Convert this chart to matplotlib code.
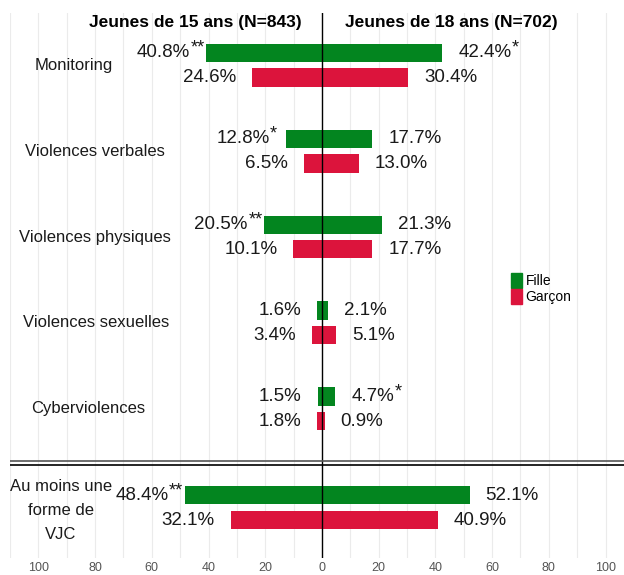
import numpy as np
import matplotlib.pyplot as plt
import matplotlib.transforms as mtransforms
from matplotlib.patches import Patch

plt.rcParams['font.family'] = ['Liberation Sans', 'DejaVu Sans']

categories = ["Monitoring", "Violences verbales", "Violences physiques",
              "Violences sexuelles", "Cyberviolences", "Au moins une\nforme de\nVJC"]
fille_15 = [40.8, 12.8, 20.5, 1.6, 1.5, 48.4]
garcon_15 = [24.6, 6.5, 10.1, 3.4, 1.8, 32.1]
fille_18 = [42.4, 17.7, 21.3, 2.1, 4.7, 52.1]
garcon_18 = [30.4, 13.0, 17.7, 5.1, 0.9, 40.9]
stars_fille_15 = ["**", "*", "**", "", "", "**"]
stars_fille_18 = ["*", "", "", "", "*", ""]
stars_garcon_15 = ["", "", "", "", "", ""]
stars_garcon_18 = ["", "", "", "", "", ""]
header_15 = "Jeunes de 15 ans (N=843)"
header_18 = "Jeunes de 18 ans (N=702)"
legend_labels = ["Fille", "Garçon"]

GREEN = "#03851f"
RED = "#dc143c"

fig = plt.figure(figsize=(6.24, 5.75), dpi=100)
W, H = 624, 575
ax = fig.add_axes([10 / W, 1 - 558 / H, 1 - 10 / W, (558 - 13) / H])

# group positions (last group a bit further down, after the separator)
ypos = np.array([0, 1, 2, 3, 4, 5.15])
off = 0.145
bh = 0.21

for g in np.arange(-110, 101, 10):
    ax.axvline(g, color="#ebebeb", lw=0.8, zorder=0)

ax.barh(ypos - off, [-v for v in fille_15], height=bh, color=GREEN, zorder=2)
ax.barh(ypos - off, fille_18, height=bh, color=GREEN, zorder=2)
ax.barh(ypos + off, [-v for v in garcon_15], height=bh, color=RED, zorder=2)
ax.barh(ypos + off, garcon_18, height=bh, color=RED, zorder=2)
ax.axvline(0, color="black", lw=1.0, zorder=3)

# separator double line
ax.axhline(4.605, color="#555555", lw=1.2, zorder=3)
ax.axhline(4.655, color="black", lw=1.2, zorder=3)


def value_label(x, y, side, star):
    t = ax.annotate(f"{x:.1f}%", xy=(side * x, y), xytext=(side * 11.5, 0),
                    textcoords="offset points", ha="right" if side < 0 else "left",
                    va="center", fontsize=13.5, color="#1a1a1a")
    if star:
        ax.annotate(star, xy=(1, 1), xycoords=t, xytext=(0.3, 3.5),
                    textcoords="offset points", ha="left", va="top",
                    fontsize=13, color="#1a1a1a")


for i in range(len(categories)):
    value_label(fille_15[i], ypos[i] - off, -1, stars_fille_15[i])
    value_label(fille_18[i], ypos[i] - off, 1, stars_fille_18[i])
    value_label(garcon_15[i], ypos[i] + off, -1, stars_garcon_15[i])
    value_label(garcon_18[i], ypos[i] + off, 1, stars_garcon_18[i])

# category labels
label_x_px = [74, 95, 95, 96, 88, 61]
label_dy = [0, 0, 0, 0, 0, 0.035]
trans = mtransforms.blended_transform_factory(fig.transFigure, ax.transData)
for i, name in enumerate(categories):
    ax.text(label_x_px[i] / W, ypos[i] + label_dy[i], name, transform=trans,
            ha="center", va="center", fontsize=12, color="#1a1a1a", linespacing=1.75)

ax.text(-7, -0.5, header_15, ha="right", va="center", fontsize=12.5, fontweight="bold")
ax.text(8, -0.5, header_18, ha="left", va="center", fontsize=12.5, fontweight="bold")

ax.set_xlim(-110, 106.5)
ax.set_ylim(5.733, -0.605)
ticks = np.arange(-100, 101, 20)
ax.set_xticks(ticks)
ax.set_xticklabels([str(abs(t)) for t in ticks], fontsize=9, color="#555555")
ax.tick_params(axis="x", length=0, pad=3)
ax.set_yticks([])
for s in ax.spines.values():
    s.set_visible(False)

handles = [Patch(color=GREEN), Patch(color=RED)]
fig.legend(handles, legend_labels, loc="upper left",
           bbox_to_anchor=(511 / W, 1 - 273 / H), frameon=False,
           fontsize=10, handlelength=0.8, handleheight=1.3,
           handletextpad=0.25, labelspacing=0.05, borderpad=0, borderaxespad=0)

fig.savefig("out.png", dpi=100)
